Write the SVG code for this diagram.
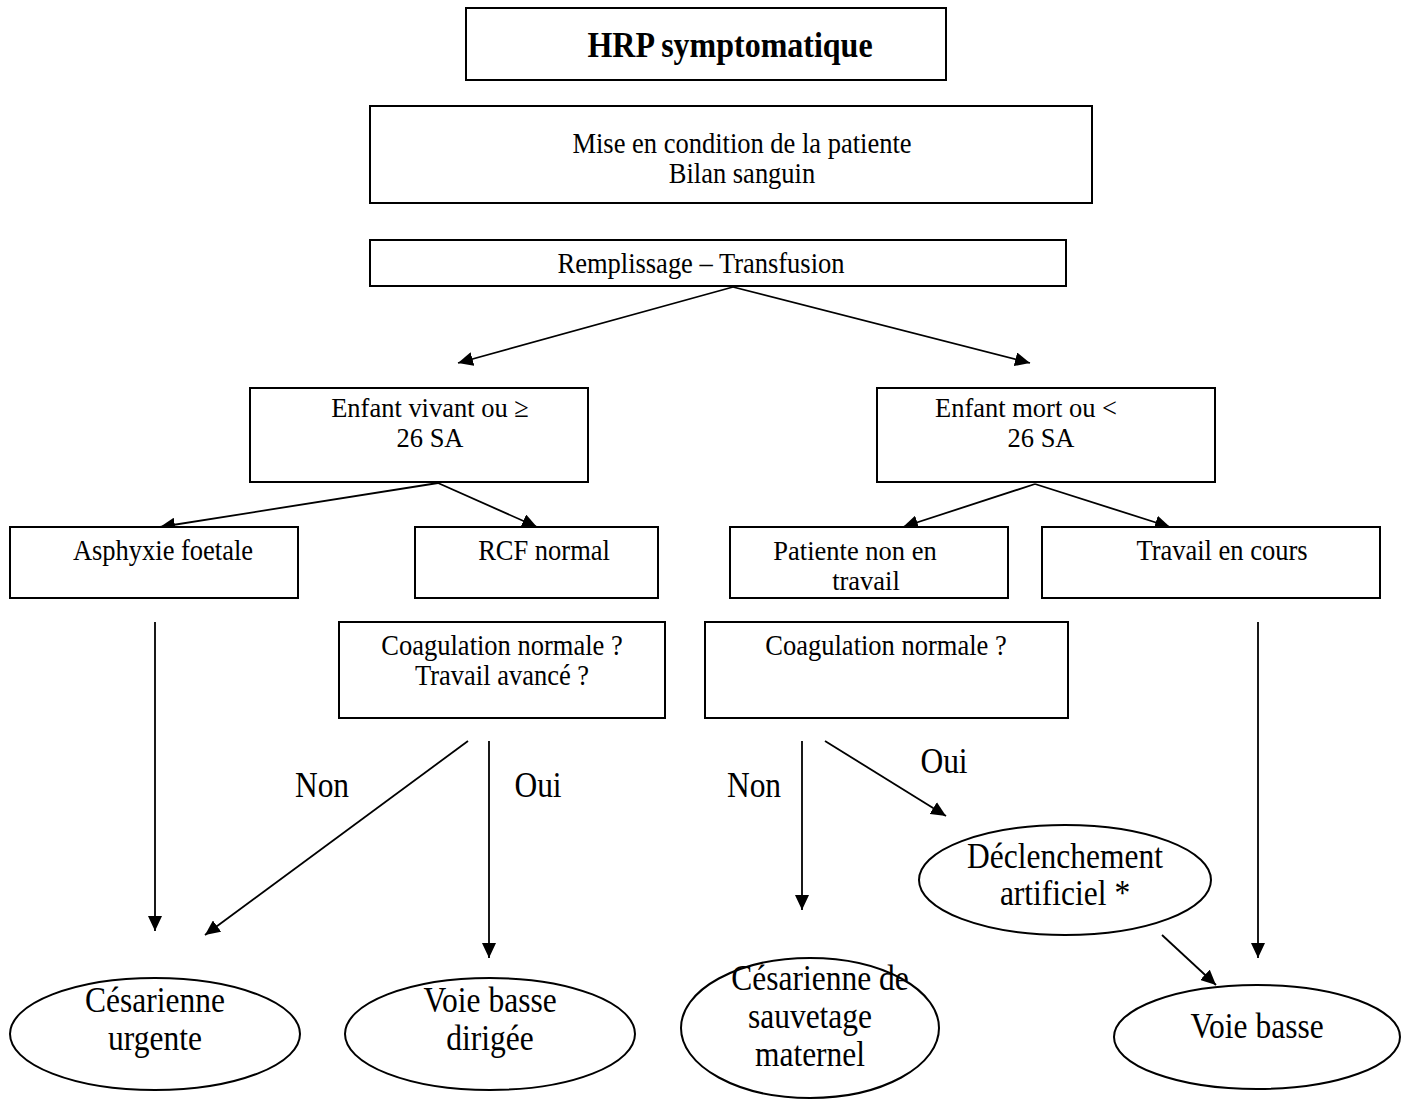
<svg xmlns="http://www.w3.org/2000/svg" width="1402" height="1099" viewBox="0 0 1402 1099">
<style>
.box{fill:#fff;stroke:#000;stroke-width:2}
.ell{fill:#fff;stroke:#000;stroke-width:2}
.t{font-family:"Liberation Serif","Times New Roman",serif;font-size:26.5px;fill:#000;text-anchor:middle}
.b{font-size:32px;font-weight:bold}
.l{font-size:31.5px}
.c{fill:none;stroke:#000;stroke-width:1.8}
</style>
<defs>
<marker id="ah" markerUnits="userSpaceOnUse" markerWidth="16" markerHeight="14" refX="15" refY="7" orient="auto">
<path d="M0,0 L15,7 L0,14 z" fill="#000"/>
</marker>
</defs>
<rect width="1402" height="1099" fill="#fff"/>
<g id="connectors">
<line class="c" x1="733" y1="287" x2="458" y2="363" marker-end="url(#ah)"/>
<line class="c" x1="733" y1="287" x2="1030" y2="363" marker-end="url(#ah)"/>
<line class="c" x1="438" y1="483" x2="160" y2="527" marker-end="url(#ah)"/>
<line class="c" x1="438" y1="483" x2="537" y2="527" marker-end="url(#ah)"/>
<line class="c" x1="1035" y1="484" x2="903" y2="527" marker-end="url(#ah)"/>
<line class="c" x1="1035" y1="484" x2="1170" y2="527" marker-end="url(#ah)"/>
<line class="c" x1="155" y1="622" x2="155" y2="931" marker-end="url(#ah)"/>
<line class="c" x1="468" y1="741" x2="205" y2="935" marker-end="url(#ah)"/>
<line class="c" x1="489" y1="741" x2="489" y2="958" marker-end="url(#ah)"/>
<line class="c" x1="802" y1="741" x2="802" y2="910" marker-end="url(#ah)"/>
<line class="c" x1="825" y1="741" x2="946" y2="816" marker-end="url(#ah)"/>
<line class="c" x1="1258" y1="622" x2="1258" y2="958" marker-end="url(#ah)"/>
<line class="c" x1="1162" y1="935" x2="1216" y2="985" marker-end="url(#ah)"/>
<text class="t l" transform="translate(322,797) scale(1,1.13)">Non</text>
<text class="t l" transform="translate(538,797) scale(1,1.13)">Oui</text>
<text class="t l" transform="translate(754,797) scale(1,1.13)">Non</text>
<text class="t l" transform="translate(944,773) scale(1,1.13)">Oui</text>
</g>
<g id="hrp">
<rect class="box" x="466" y="8" width="480" height="72"/>
<text class="t b" transform="translate(730,57) scale(1,1.13)">HRP symptomatique</text>
</g>
<g id="mise">
<rect class="box" x="370" y="106" width="722" height="97"/>
<text class="t" transform="translate(742,153) scale(1,1.13)">Mise en condition de la patiente</text>
<text class="t" transform="translate(742,183) scale(1,1.13)">Bilan sanguin</text>
</g>
<g id="remplissage">
<rect class="box" x="370" y="240" width="696" height="46"/>
<text class="t" transform="translate(701,273) scale(1,1.13)">Remplissage – Transfusion</text>
</g>
<g id="vivant">
<rect class="box" x="250" y="388" width="338" height="94"/>
<text class="t" transform="translate(430,417) scale(1,1.05)">Enfant vivant ou ≥</text>
<text class="t" transform="translate(430,447) scale(1,1.05)">26 SA</text>
</g>
<g id="mort">
<rect class="box" x="877" y="388" width="338" height="94"/>
<text class="t" transform="translate(1026,417) scale(1,1.05)">Enfant mort ou &lt;</text>
<text class="t" transform="translate(1041,447) scale(1,1.05)">26 SA</text>
</g>
<g id="asphyxie">
<rect class="box" x="10" y="527" width="288" height="71"/>
<text class="t" transform="translate(163,560) scale(1,1.13)">Asphyxie foetale</text>
</g>
<g id="rcf">
<rect class="box" x="415" y="527" width="243" height="71"/>
<text class="t" transform="translate(544,560) scale(1,1.13)">RCF normal</text>
</g>
<g id="patiente">
<rect class="box" x="730" y="527" width="278" height="71"/>
<text class="t" transform="translate(855,560) scale(1,1.05)">Patiente non en</text>
<text class="t" transform="translate(866,590) scale(1,1.05)">travail</text>
</g>
<g id="travail">
<rect class="box" x="1042" y="527" width="338" height="71"/>
<text class="t" transform="translate(1222,560) scale(1,1.13)">Travail en cours</text>
</g>
<g id="coag1">
<rect class="box" x="339" y="622" width="326" height="96"/>
<text class="t" transform="translate(502,655) scale(1,1.13)">Coagulation normale ?</text>
<text class="t" transform="translate(502,685) scale(1,1.13)">Travail avancé ?</text>
</g>
<g id="coag2">
<rect class="box" x="705" y="622" width="363" height="96"/>
<text class="t" transform="translate(886,655) scale(1,1.13)">Coagulation normale ?</text>
</g>
<g id="cesarienne-urgente">
<ellipse class="ell" cx="155" cy="1034" rx="145" ry="56"/>
<text class="t l" transform="translate(155,1012) scale(1,1.13)">Césarienne</text>
<text class="t l" transform="translate(155,1050) scale(1,1.13)">urgente</text>
</g>
<g id="voie-basse-dirigee">
<ellipse class="ell" cx="490" cy="1034" rx="145" ry="56"/>
<text class="t l" transform="translate(490,1012) scale(1,1.13)">Voie basse</text>
<text class="t l" transform="translate(490,1050) scale(1,1.13)">dirigée</text>
</g>
<g id="cesarienne-sauvetage">
<ellipse class="ell" cx="810" cy="1028" rx="129" ry="70"/>
<text class="t l" transform="translate(820,990) scale(1,1.13)">Césarienne de</text>
<text class="t l" transform="translate(810,1028) scale(1,1.13)">sauvetage</text>
<text class="t l" transform="translate(810,1066) scale(1,1.13)">maternel</text>
</g>
<g id="declenchement">
<ellipse class="ell" cx="1065" cy="880" rx="146" ry="55"/>
<text class="t l" transform="translate(1065,868) scale(1,1.13)">Déclenchement</text>
<text class="t l" transform="translate(1065,905) scale(1,1.13)">artificiel *</text>
</g>
<g id="voie-basse">
<ellipse class="ell" cx="1257" cy="1037" rx="143" ry="52"/>
<text class="t l" transform="translate(1257,1038) scale(1,1.13)">Voie basse</text>
</g>
</svg>
